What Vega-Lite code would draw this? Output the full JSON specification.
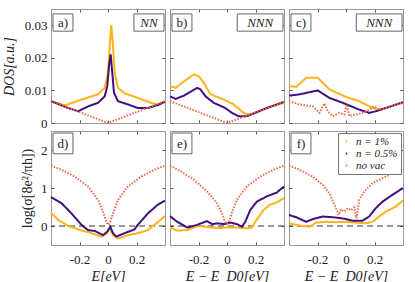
{
"$schema":"https://vega.github.io/schema/vega-lite/v6.json",
"padding":{"left":1,"top":8,"right":0,"bottom":0},
"config":{
 "font":"Liberation Serif",
 "view":{"stroke":"#999"},
 "axis":{"domainColor":"#999","tickColor":"#555","tickSize":-3,"labelPadding":7,"labelFont":"Liberation Serif","labelFontSize":13,"labelColor":"#222","titleFont":"Liberation Serif","titleFontSize":14,"titleFontWeight":"normal","titleFontStyle":"italic","titleColor":"#222","titlePadding":5,"grid":false},
 "axisX":{"labelPadding":11},
 "legend":{"strokeColor":"#777","fillColor":"white","padding":3,"labelFont":"Liberation Serif","labelFontStyle":"italic","labelFontSize":11,"labelColor":"#222","symbolType":"stroke","symbolSize":250,"symbolStrokeWidth":2,"rowPadding":0,"offset":2}
},
"datasets":{
"a":[
{"s":"n = 1%","E":-0.4,"v":0.0067},{"s":"n = 1%","E":-0.302,"v":0.0054},{"s":"n = 1%","E":-0.186,"v":0.0072},{"s":"n = 1%","E":-0.07,"v":0.0088},{"s":"n = 1%","E":-0.023,"v":0.0108},{"s":"n = 1%","E":0,"v":0.0154},{"s":"n = 1%","E":0.012,"v":0.0237},{"s":"n = 1%","E":0.023,"v":0.0301},{"s":"n = 1%","E":0.035,"v":0.0237},{"s":"n = 1%","E":0.047,"v":0.0154},{"s":"n = 1%","E":0.07,"v":0.0108},{"s":"n = 1%","E":0.116,"v":0.0091},{"s":"n = 1%","E":0.209,"v":0.0077},{"s":"n = 1%","E":0.302,"v":0.0062},{"s":"n = 1%","E":0.349,"v":0.0057},{"s":"n = 1%","E":0.4,"v":0.0067},
{"s":"n = 0.5%","E":-0.4,"v":0.0067},{"s":"n = 0.5%","E":-0.279,"v":0.0046},{"s":"n = 0.5%","E":-0.209,"v":0.0036},{"s":"n = 0.5%","E":-0.14,"v":0.0051},{"s":"n = 0.5%","E":-0.07,"v":0.0062},{"s":"n = 0.5%","E":-0.023,"v":0.0082},{"s":"n = 0.5%","E":-0.005,"v":0.0113},{"s":"n = 0.5%","E":0.007,"v":0.0175},{"s":"n = 0.5%","E":0.019,"v":0.0211},{"s":"n = 0.5%","E":0.03,"v":0.0154},{"s":"n = 0.5%","E":0.042,"v":0.0093},{"s":"n = 0.5%","E":0.07,"v":0.0067},{"s":"n = 0.5%","E":0.14,"v":0.0057},{"s":"n = 0.5%","E":0.209,"v":0.0046},{"s":"n = 0.5%","E":0.279,"v":0.0046},{"s":"n = 0.5%","E":0.349,"v":0.0055},{"s":"n = 0.5%","E":0.4,"v":0.0065},
{"s":"no vac","E":-0.4,"v":0.0067},{"s":"no vac","E":0,"v":0},{"s":"no vac","E":0.4,"v":0.0067}
],
"b":[
{"s":"n = 1%","E":-0.4,"v":0.0113},{"s":"n = 1%","E":-0.36,"v":0.0108},{"s":"n = 1%","E":-0.314,"v":0.0124},{"s":"n = 1%","E":-0.233,"v":0.0149},{"s":"n = 1%","E":-0.198,"v":0.0144},{"s":"n = 1%","E":-0.163,"v":0.0124},{"s":"n = 1%","E":-0.116,"v":0.0088},{"s":"n = 1%","E":-0.023,"v":0.0072},{"s":"n = 1%","E":0.047,"v":0.0057},{"s":"n = 1%","E":0.116,"v":0.0031},{"s":"n = 1%","E":0.151,"v":0.0026},{"s":"n = 1%","E":0.186,"v":0.0029},{"s":"n = 1%","E":0.279,"v":0.0046},{"s":"n = 1%","E":0.4,"v":0.0062},
{"s":"n = 0.5%","E":-0.4,"v":0.0082},{"s":"n = 0.5%","E":-0.36,"v":0.0074},{"s":"n = 0.5%","E":-0.302,"v":0.0084},{"s":"n = 0.5%","E":-0.209,"v":0.0108},{"s":"n = 0.5%","E":-0.186,"v":0.0103},{"s":"n = 0.5%","E":-0.151,"v":0.0082},{"s":"n = 0.5%","E":-0.093,"v":0.0062},{"s":"n = 0.5%","E":-0.012,"v":0.0046},{"s":"n = 0.5%","E":0.035,"v":0.0031},{"s":"n = 0.5%","E":0.081,"v":0.0021},{"s":"n = 0.5%","E":0.14,"v":0.0021},{"s":"n = 0.5%","E":0.186,"v":0.0029},{"s":"n = 0.5%","E":0.279,"v":0.0046},{"s":"n = 0.5%","E":0.4,"v":0.0065},
{"s":"no vac","E":-0.4,"v":0.0067},{"s":"no vac","E":0,"v":0},{"s":"no vac","E":0.4,"v":0.0065}
],
"c":[
{"s":"n = 1%","E":-0.4,"v":0.0113},{"s":"n = 1%","E":-0.349,"v":0.0111},{"s":"n = 1%","E":-0.279,"v":0.0139},{"s":"n = 1%","E":-0.198,"v":0.0139},{"s":"n = 1%","E":-0.116,"v":0.0103},{"s":"n = 1%","E":0,"v":0.008},{"s":"n = 1%","E":0.093,"v":0.0067},{"s":"n = 1%","E":0.163,"v":0.0051},{"s":"n = 1%","E":0.221,"v":0.0041},{"s":"n = 1%","E":0.279,"v":0.0046},{"s":"n = 1%","E":0.4,"v":0.0062},
{"s":"n = 0.5%","E":-0.4,"v":0.0084},{"s":"n = 0.5%","E":-0.326,"v":0.0088},{"s":"n = 0.5%","E":-0.198,"v":0.01},{"s":"n = 0.5%","E":-0.116,"v":0.0077},{"s":"n = 0.5%","E":-0.023,"v":0.0062},{"s":"n = 0.5%","E":0.093,"v":0.0041},{"s":"n = 0.5%","E":0.163,"v":0.0031},{"s":"n = 0.5%","E":0.209,"v":0.0036},{"s":"n = 0.5%","E":0.279,"v":0.0046},{"s":"n = 0.5%","E":0.4,"v":0.0064},
{"s":"no vac","E":-0.4,"v":0.0067},{"s":"no vac","E":-0.326,"v":0.0057},{"s":"no vac","E":-0.233,"v":0.0051},{"s":"no vac","E":-0.186,"v":0.0031},{"s":"no vac","E":-0.151,"v":0.006},{"s":"no vac","E":-0.128,"v":0.0036},{"s":"no vac","E":-0.093,"v":0.0021},{"s":"no vac","E":-0.047,"v":0.0031},{"s":"no vac","E":-0.012,"v":0.0026},{"s":"no vac","E":0.005,"v":0.0057},{"s":"no vac","E":0.023,"v":0.0021},{"s":"no vac","E":0.07,"v":0.0026},{"s":"no vac","E":0.116,"v":0.0031},{"s":"no vac","E":0.163,"v":0.0041},{"s":"no vac","E":0.198,"v":0.0051},{"s":"no vac","E":0.233,"v":0.0039},{"s":"no vac","E":0.279,"v":0.0046},{"s":"no vac","E":0.4,"v":0.0064}
],
"d":[
{"s":"n = 1%","E":-0.4,"v":0.35},{"s":"n = 1%","E":-0.349,"v":0.16},{"s":"n = 1%","E":-0.279,"v":0},{"s":"n = 1%","E":-0.186,"v":-0.12},{"s":"n = 1%","E":-0.116,"v":-0.19},{"s":"n = 1%","E":-0.047,"v":-0.28},{"s":"n = 1%","E":-0.012,"v":-0.21},{"s":"n = 1%","E":0.012,"v":-0.04},{"s":"n = 1%","E":0.035,"v":-0.24},{"s":"n = 1%","E":0.07,"v":-0.33},{"s":"n = 1%","E":0.14,"v":-0.24},{"s":"n = 1%","E":0.209,"v":-0.19},{"s":"n = 1%","E":0.279,"v":-0.11},{"s":"n = 1%","E":0.326,"v":0.03},{"s":"n = 1%","E":0.4,"v":0.26},
{"s":"n = 0.5%","E":-0.4,"v":0.76},{"s":"n = 0.5%","E":-0.326,"v":0.6},{"s":"n = 0.5%","E":-0.256,"v":0.33},{"s":"n = 0.5%","E":-0.186,"v":0.03},{"s":"n = 0.5%","E":-0.14,"v":-0.11},{"s":"n = 0.5%","E":-0.093,"v":-0.13},{"s":"n = 0.5%","E":-0.035,"v":-0.24},{"s":"n = 0.5%","E":-0.005,"v":-0.15},{"s":"n = 0.5%","E":0.016,"v":-0.02},{"s":"n = 0.5%","E":0.035,"v":-0.19},{"s":"n = 0.5%","E":0.058,"v":-0.28},{"s":"n = 0.5%","E":0.116,"v":-0.19},{"s":"n = 0.5%","E":0.186,"v":-0.09},{"s":"n = 0.5%","E":0.209,"v":0.03},{"s":"n = 0.5%","E":0.279,"v":0.33},{"s":"n = 0.5%","E":0.349,"v":0.56},{"s":"n = 0.5%","E":0.4,"v":0.67},
{"s":"no vac","E":-0.4,"v":1.59},{"s":"no vac","E":-0.326,"v":1.48},{"s":"no vac","E":-0.233,"v":1.3},{"s":"no vac","E":-0.14,"v":1.04},{"s":"no vac","E":-0.07,"v":0.69},{"s":"no vac","E":-0.035,"v":0.38},{"s":"no vac","E":-0.012,"v":0.11},{"s":"no vac","E":0,"v":0.03},{"s":"no vac","E":0.012,"v":0.07},{"s":"no vac","E":0.035,"v":0.33},{"s":"no vac","E":0.07,"v":0.69},{"s":"no vac","E":0.14,"v":1.04},{"s":"no vac","E":0.233,"v":1.3},{"s":"no vac","E":0.326,"v":1.48},{"s":"no vac","E":0.4,"v":1.59}
],
"e":[
{"s":"n = 1%","E":-0.4,"v":-0.04},{"s":"n = 1%","E":-0.349,"v":-0.12},{"s":"n = 1%","E":-0.279,"v":-0.11},{"s":"n = 1%","E":-0.209,"v":0},{"s":"n = 1%","E":-0.14,"v":-0.02},{"s":"n = 1%","E":-0.07,"v":-0.06},{"s":"n = 1%","E":0,"v":-0.04},{"s":"n = 1%","E":0.07,"v":-0.04},{"s":"n = 1%","E":0.14,"v":-0.06},{"s":"n = 1%","E":0.174,"v":-0.04},{"s":"n = 1%","E":0.198,"v":0.11},{"s":"n = 1%","E":0.256,"v":0.42},{"s":"n = 1%","E":0.302,"v":0.56},{"s":"n = 1%","E":0.349,"v":0.62},{"s":"n = 1%","E":0.4,"v":0.73},
{"s":"n = 0.5%","E":-0.4,"v":0.26},{"s":"n = 0.5%","E":-0.349,"v":0.11},{"s":"n = 0.5%","E":-0.279,"v":-0.04},{"s":"n = 0.5%","E":-0.209,"v":0.03},{"s":"n = 0.5%","E":-0.14,"v":0.13},{"s":"n = 0.5%","E":-0.105,"v":0.05},{"s":"n = 0.5%","E":-0.07,"v":0.07},{"s":"n = 0.5%","E":-0.023,"v":0.05},{"s":"n = 0.5%","E":0.023,"v":0.09},{"s":"n = 0.5%","E":0.07,"v":0.05},{"s":"n = 0.5%","E":0.105,"v":-0.02},{"s":"n = 0.5%","E":0.128,"v":0.11},{"s":"n = 0.5%","E":0.163,"v":0.42},{"s":"n = 0.5%","E":0.209,"v":0.64},{"s":"n = 0.5%","E":0.279,"v":0.78},{"s":"n = 0.5%","E":0.349,"v":0.88},{"s":"n = 0.5%","E":0.4,"v":1.04},
{"s":"no vac","E":-0.4,"v":1.59},{"s":"no vac","E":-0.326,"v":1.44},{"s":"no vac","E":-0.233,"v":1.22},{"s":"no vac","E":-0.14,"v":0.91},{"s":"no vac","E":-0.07,"v":0.6},{"s":"no vac","E":-0.035,"v":0.33},{"s":"no vac","E":-0.012,"v":0.09},{"s":"no vac","E":0,"v":0.05},{"s":"no vac","E":0.012,"v":0.09},{"s":"no vac","E":0.035,"v":0.35},{"s":"no vac","E":0.07,"v":0.69},{"s":"no vac","E":0.14,"v":1.04},{"s":"no vac","E":0.233,"v":1.3},{"s":"no vac","E":0.326,"v":1.48},{"s":"no vac","E":0.4,"v":1.59}
],
"f":[
{"s":"n = 1%","E":-0.4,"v":0.07},{"s":"n = 1%","E":-0.349,"v":0.03},{"s":"n = 1%","E":-0.302,"v":0},{"s":"n = 1%","E":-0.256,"v":-0.02},{"s":"n = 1%","E":-0.209,"v":0.09},{"s":"n = 1%","E":-0.14,"v":0.11},{"s":"n = 1%","E":-0.07,"v":0.1},{"s":"n = 1%","E":0,"v":0.11},{"s":"n = 1%","E":0.07,"v":0.09},{"s":"n = 1%","E":0.14,"v":0.07},{"s":"n = 1%","E":0.186,"v":0.11},{"s":"n = 1%","E":0.233,"v":0.25},{"s":"n = 1%","E":0.279,"v":0.38},{"s":"n = 1%","E":0.349,"v":0.51},{"s":"n = 1%","E":0.4,"v":0.67},
{"s":"n = 0.5%","E":-0.4,"v":0.29},{"s":"n = 0.5%","E":-0.349,"v":0.23},{"s":"n = 0.5%","E":-0.279,"v":0.11},{"s":"n = 0.5%","E":-0.233,"v":0.18},{"s":"n = 0.5%","E":-0.163,"v":0.25},{"s":"n = 0.5%","E":-0.093,"v":0.23},{"s":"n = 0.5%","E":-0.023,"v":0.2},{"s":"n = 0.5%","E":0.047,"v":0.14},{"s":"n = 0.5%","E":0.116,"v":0.14},{"s":"n = 0.5%","E":0.163,"v":0.25},{"s":"n = 0.5%","E":0.209,"v":0.47},{"s":"n = 0.5%","E":0.256,"v":0.64},{"s":"n = 0.5%","E":0.326,"v":0.82},{"s":"n = 0.5%","E":0.4,"v":1.0},
{"s":"no vac","E":-0.4,"v":1.59},{"s":"no vac","E":-0.326,"v":1.48},{"s":"no vac","E":-0.233,"v":1.3},{"s":"no vac","E":-0.163,"v":1.08},{"s":"no vac","E":-0.116,"v":0.86},{"s":"no vac","E":-0.081,"v":0.56},{"s":"no vac","E":-0.051,"v":0.29},{"s":"no vac","E":-0.035,"v":0.44},{"s":"no vac","E":-0.012,"v":0.38},{"s":"no vac","E":0.012,"v":0.47},{"s":"no vac","E":0.035,"v":0.41},{"s":"no vac","E":0.058,"v":0.49},{"s":"no vac","E":0.074,"v":0.2},{"s":"no vac","E":0.093,"v":0.69},{"s":"no vac","E":0.128,"v":0.91},{"s":"no vac","E":0.186,"v":1.13},{"s":"no vac","E":0.256,"v":1.26},{"s":"no vac","E":0.326,"v":1.39},{"s":"no vac","E":0.4,"v":1.55}
]
},
"resolve":{"scale":{"color":"independent","strokeDash":"independent","size":"independent"}},
"spacing":-17,
"vconcat":[
{"hconcat":[
 {"width":114,"height":114,"layer":[
  {"data":{"name":"a"},"mark":{"type":"line"},"encoding":{
   "x":{"field":"E","type":"quantitative","scale":{"domain":[-0.4,0.4],"nice":false,"zero":false},"axis":{"values":[-0.2,0,0.2],"labels":false,"title":null}},
   "y":{"field":"v","type":"quantitative","scale":{"domain":[0,0.035],"nice":false},"axis":{"values":[0,0.01,0.02,0.03],"format":"~g","title":"DOS[a.u.]","titleX":-35,"titleY":57}},
   "color":{"field":"s","type":"nominal","scale":{"domain":["n = 1%","n = 0.5%","no vac"],"range":["#FFB31A","#42107E","#F26A4B"]},"legend":null},
   "strokeDash":{"field":"s","type":"nominal","scale":{"domain":["n = 1%","n = 0.5%","no vac"],"range":[[1,0],[1,0],[1.5,1.5]]},"legend":null},
   "size":{"field":"s","type":"nominal","scale":{"domain":["n = 1%","n = 0.5%","no vac"],"range":[2,2,1.5]},"legend":null}}},
  {"data":{"name":"a"},"mark":{"type":"line","strokeOpacity":0},"encoding":{
   "x":{"field":"E","type":"quantitative","scale":{"domain":[-0.4,0.4],"nice":false,"zero":false},"axis":{"orient":"top","values":[-0.2,0,0.2],"labels":false,"title":null}},
   "y":{"field":"v","type":"quantitative","scale":{"domain":[0,0.035],"nice":false},"axis":{"orient":"right","values":[0,0.01,0.02,0.03],"labels":false,"title":null}}}},
  {"data":{"values":[{"t":"a)"}]},"mark":{"type":"rect","fill":"white","stroke":"#666","strokeWidth":1},"encoding":{"x":{"datum":-0.386,"axis":null},"x2":{"datum":-0.246},"y":{"datum":0.0335,"axis":null},"y2":{"datum":0.0282}}},
  {"data":{"values":[{"t":"a)"}]},"mark":{"type":"text","fontSize":13,"color":"#222"},"encoding":{"x":{"datum":-0.316,"axis":null},"y":{"datum":0.0308,"axis":null},"text":{"field":"t"}}},
  {"data":{"values":[{"t":"NN"}]},"mark":{"type":"rect","fill":"white","stroke":"#666","strokeWidth":1},"encoding":{"x":{"datum":0.182,"axis":null},"x2":{"datum":0.393},"y":{"datum":0.0335,"axis":null},"y2":{"datum":0.0282}}},
  {"data":{"values":[{"t":"NN"}]},"mark":{"type":"text","fontSize":13,"fontStyle":"italic","color":"#222"},"encoding":{"x":{"datum":0.288,"axis":null},"y":{"datum":0.0308,"axis":null},"text":{"field":"t"}}}
 ],"resolve":{"axis":{"x":"independent","y":"independent"}}},
 {"width":114,"height":114,"layer":[
  {"data":{"name":"b"},"mark":{"type":"line"},"encoding":{
   "x":{"field":"E","type":"quantitative","scale":{"domain":[-0.4,0.4],"nice":false,"zero":false},"axis":{"values":[-0.2,0,0.2],"labels":false,"title":null}},
   "y":{"field":"v","type":"quantitative","scale":{"domain":[0,0.035],"nice":false},"axis":{"values":[0,0.01,0.02,0.03],"labels":false,"title":null}},
   "color":{"field":"s","type":"nominal","scale":{"domain":["n = 1%","n = 0.5%","no vac"],"range":["#FFB31A","#42107E","#F26A4B"]},"legend":null},
   "strokeDash":{"field":"s","type":"nominal","scale":{"domain":["n = 1%","n = 0.5%","no vac"],"range":[[1,0],[1,0],[1.5,1.5]]},"legend":null},
   "size":{"field":"s","type":"nominal","scale":{"domain":["n = 1%","n = 0.5%","no vac"],"range":[2,2,1.5]},"legend":null}}},
  {"data":{"name":"b"},"mark":{"type":"line","strokeOpacity":0},"encoding":{
   "x":{"field":"E","type":"quantitative","scale":{"domain":[-0.4,0.4],"nice":false,"zero":false},"axis":{"orient":"top","values":[-0.2,0,0.2],"labels":false,"title":null}},
   "y":{"field":"v","type":"quantitative","scale":{"domain":[0,0.035],"nice":false},"axis":{"orient":"right","values":[0,0.01,0.02,0.03],"labels":false,"title":null}}}},
  {"data":{"values":[{"t":"b)"}]},"mark":{"type":"rect","fill":"white","stroke":"#666","strokeWidth":1},"encoding":{"x":{"datum":-0.386,"axis":null},"x2":{"datum":-0.246},"y":{"datum":0.0335,"axis":null},"y2":{"datum":0.0282}}},
  {"data":{"values":[{"t":"b)"}]},"mark":{"type":"text","fontSize":13,"color":"#222"},"encoding":{"x":{"datum":-0.316,"axis":null},"y":{"datum":0.0308,"axis":null},"text":{"field":"t"}}},
  {"data":{"values":[{"t":"NNN"}]},"mark":{"type":"rect","fill":"white","stroke":"#666","strokeWidth":1},"encoding":{"x":{"datum":0.072,"axis":null},"x2":{"datum":0.393},"y":{"datum":0.0335,"axis":null},"y2":{"datum":0.0282}}},
  {"data":{"values":[{"t":"NNN"}]},"mark":{"type":"text","fontSize":13,"fontStyle":"italic","color":"#222"},"encoding":{"x":{"datum":0.233,"axis":null},"y":{"datum":0.0308,"axis":null},"text":{"field":"t"}}}
 ],"resolve":{"axis":{"x":"independent","y":"independent"}}},
 {"width":114,"height":114,"layer":[
  {"data":{"name":"c"},"mark":{"type":"line"},"encoding":{
   "x":{"field":"E","type":"quantitative","scale":{"domain":[-0.4,0.4],"nice":false,"zero":false},"axis":{"values":[-0.2,0,0.2],"labels":false,"title":null}},
   "y":{"field":"v","type":"quantitative","scale":{"domain":[0,0.035],"nice":false},"axis":{"values":[0,0.01,0.02,0.03],"labels":false,"title":null}},
   "color":{"field":"s","type":"nominal","scale":{"domain":["n = 1%","n = 0.5%","no vac"],"range":["#FFB31A","#42107E","#F26A4B"]},"legend":null},
   "strokeDash":{"field":"s","type":"nominal","scale":{"domain":["n = 1%","n = 0.5%","no vac"],"range":[[1,0],[1,0],[1.5,1.5]]},"legend":null},
   "size":{"field":"s","type":"nominal","scale":{"domain":["n = 1%","n = 0.5%","no vac"],"range":[2,2,1.5]},"legend":null}}},
  {"data":{"name":"c"},"mark":{"type":"line","strokeOpacity":0},"encoding":{
   "x":{"field":"E","type":"quantitative","scale":{"domain":[-0.4,0.4],"nice":false,"zero":false},"axis":{"orient":"top","values":[-0.2,0,0.2],"labels":false,"title":null}},
   "y":{"field":"v","type":"quantitative","scale":{"domain":[0,0.035],"nice":false},"axis":{"orient":"right","values":[0,0.01,0.02,0.03],"labels":false,"title":null}}}},
  {"data":{"values":[{"t":"c)"}]},"mark":{"type":"rect","fill":"white","stroke":"#666","strokeWidth":1},"encoding":{"x":{"datum":-0.386,"axis":null},"x2":{"datum":-0.246},"y":{"datum":0.0335,"axis":null},"y2":{"datum":0.0282}}},
  {"data":{"values":[{"t":"c)"}]},"mark":{"type":"text","fontSize":13,"color":"#222"},"encoding":{"x":{"datum":-0.316,"axis":null},"y":{"datum":0.0308,"axis":null},"text":{"field":"t"}}},
  {"data":{"values":[{"t":"NNN"}]},"mark":{"type":"rect","fill":"white","stroke":"#666","strokeWidth":1},"encoding":{"x":{"datum":0.072,"axis":null},"x2":{"datum":0.393},"y":{"datum":0.0335,"axis":null},"y2":{"datum":0.0282}}},
  {"data":{"values":[{"t":"NNN"}]},"mark":{"type":"text","fontSize":13,"fontStyle":"italic","color":"#222"},"encoding":{"x":{"datum":0.233,"axis":null},"y":{"datum":0.0308,"axis":null},"text":{"field":"t"}}}
 ],"resolve":{"axis":{"x":"independent","y":"independent"}}}
],"spacing":-5,"resolve":{"scale":{"color":"independent","strokeDash":"independent","size":"independent"}}},
{"hconcat":[
 {"width":114,"height":114,"layer":[
  {"data":{"values":[{}]},"mark":{"type":"rule","strokeDash":[6,4],"color":"#333","strokeWidth":1},"encoding":{"y":{"datum":0,"axis":null}}},
  {"data":{"name":"d"},"mark":{"type":"line"},"encoding":{
   "x":{"field":"E","type":"quantitative","scale":{"domain":[-0.4,0.4],"nice":false,"zero":false},"axis":{"values":[-0.2,0,0.2],"labelPadding":11,"labelExpr":"datum.value < 0 ? '-' + format(-datum.value, '~g') : format(datum.value, '~g')","title":"E[eV]","titleX":57,"titleY":24}},
   "y":{"field":"v","type":"quantitative","scale":{"domain":[-0.5,2.5],"nice":false,"zero":false},"axis":{"values":[0,1,2],"title":"log(σ[8e²/πh])","titleFontStyle":"normal","titleX":-17,"titleY":57}},
   "color":{"field":"s","type":"nominal","scale":{"domain":["n = 1%","n = 0.5%","no vac"],"range":["#FFB31A","#42107E","#F26A4B"]},"legend":null},
   "strokeDash":{"field":"s","type":"nominal","scale":{"domain":["n = 1%","n = 0.5%","no vac"],"range":[[1,0],[1,0],[1.5,1.5]]},"legend":null},
   "size":{"field":"s","type":"nominal","scale":{"domain":["n = 1%","n = 0.5%","no vac"],"range":[2,2,1.5]},"legend":null}}},
  {"data":{"name":"d"},"mark":{"type":"line","strokeOpacity":0},"encoding":{
   "x":{"field":"E","type":"quantitative","scale":{"domain":[-0.4,0.4],"nice":false,"zero":false},"axis":{"orient":"top","values":[-0.2,0,0.2],"labels":false,"title":null}},
   "y":{"field":"v","type":"quantitative","scale":{"domain":[-0.5,2.5],"nice":false,"zero":false},"axis":{"orient":"right","values":[0,1,2],"labels":false,"title":null}}}},
  {"data":{"values":[{"t":"d)"}]},"mark":{"type":"rect","fill":"white","stroke":"#666","strokeWidth":1},"encoding":{"x":{"datum":-0.386,"axis":null},"x2":{"datum":-0.246},"y":{"datum":2.447,"axis":null},"y2":{"datum":1.9}}},
  {"data":{"values":[{"t":"d)"}]},"mark":{"type":"text","fontSize":13,"color":"#222"},"encoding":{"x":{"datum":-0.316,"axis":null},"y":{"datum":2.17,"axis":null},"text":{"field":"t"}}}
 ],"resolve":{"axis":{"x":"independent","y":"independent"}}},
 {"width":114,"height":114,"layer":[
  {"data":{"values":[{}]},"mark":{"type":"rule","strokeDash":[6,4],"color":"#333","strokeWidth":1},"encoding":{"y":{"datum":0,"axis":null}}},
  {"data":{"name":"e"},"mark":{"type":"line"},"encoding":{
   "x":{"field":"E","type":"quantitative","scale":{"domain":[-0.4,0.4],"nice":false,"zero":false},"axis":{"values":[-0.2,0,0.2],"labelPadding":11,"labelExpr":"datum.value < 0 ? '-' + format(-datum.value, '~g') : format(datum.value, '~g')","title":"E − E_D0[eV]","titleX":57,"titleY":24}},
   "y":{"field":"v","type":"quantitative","scale":{"domain":[-0.5,2.5],"nice":false,"zero":false},"axis":{"values":[0,1,2],"labels":false,"title":null}},
   "color":{"field":"s","type":"nominal","scale":{"domain":["n = 1%","n = 0.5%","no vac"],"range":["#FFB31A","#42107E","#F26A4B"]},"legend":null},
   "strokeDash":{"field":"s","type":"nominal","scale":{"domain":["n = 1%","n = 0.5%","no vac"],"range":[[1,0],[1,0],[1.5,1.5]]},"legend":null},
   "size":{"field":"s","type":"nominal","scale":{"domain":["n = 1%","n = 0.5%","no vac"],"range":[2,2,1.5]},"legend":null}}},
  {"data":{"name":"e"},"mark":{"type":"line","strokeOpacity":0},"encoding":{
   "x":{"field":"E","type":"quantitative","scale":{"domain":[-0.4,0.4],"nice":false,"zero":false},"axis":{"orient":"top","values":[-0.2,0,0.2],"labels":false,"title":null}},
   "y":{"field":"v","type":"quantitative","scale":{"domain":[-0.5,2.5],"nice":false,"zero":false},"axis":{"orient":"right","values":[0,1,2],"labels":false,"title":null}}}},
  {"data":{"values":[{"t":"e)"}]},"mark":{"type":"rect","fill":"white","stroke":"#666","strokeWidth":1},"encoding":{"x":{"datum":-0.386,"axis":null},"x2":{"datum":-0.246},"y":{"datum":2.447,"axis":null},"y2":{"datum":1.9}}},
  {"data":{"values":[{"t":"e)"}]},"mark":{"type":"text","fontSize":13,"color":"#222"},"encoding":{"x":{"datum":-0.316,"axis":null},"y":{"datum":2.17,"axis":null},"text":{"field":"t"}}}
 ],"resolve":{"axis":{"x":"independent","y":"independent"}}},
 {"width":114,"height":114,"layer":[
  {"data":{"values":[{}]},"mark":{"type":"rule","strokeDash":[6,4],"color":"#333","strokeWidth":1},"encoding":{"y":{"datum":0,"axis":null}}},
  {"data":{"name":"f"},"mark":{"type":"line"},"encoding":{
   "x":{"field":"E","type":"quantitative","scale":{"domain":[-0.4,0.4],"nice":false,"zero":false},"axis":{"values":[-0.2,0,0.2],"labelPadding":11,"labelExpr":"datum.value < 0 ? '-' + format(-datum.value, '~g') : format(datum.value, '~g')","title":"E − E_D0[eV]","titleX":57,"titleY":24}},
   "y":{"field":"v","type":"quantitative","scale":{"domain":[-0.5,2.5],"nice":false,"zero":false},"axis":{"values":[0,1,2],"labels":false,"title":null}},
   "color":{"field":"s","type":"nominal","scale":{"domain":["n = 1%","n = 0.5%","no vac"],"range":["#FFB31A","#42107E","#F26A4B"]},"legend":{"title":null,"orient":"top-right"}},
   "strokeDash":{"field":"s","type":"nominal","scale":{"domain":["n = 1%","n = 0.5%","no vac"],"range":[[1,0],[1,0],[1.5,1.5]]},"legend":{"title":null,"orient":"top-right"}},
   "size":{"field":"s","type":"nominal","scale":{"domain":["n = 1%","n = 0.5%","no vac"],"range":[2,2,1.5]},"legend":{"title":null,"orient":"top-right"}}}},
  {"data":{"name":"f"},"mark":{"type":"line","strokeOpacity":0},"encoding":{
   "x":{"field":"E","type":"quantitative","scale":{"domain":[-0.4,0.4],"nice":false,"zero":false},"axis":{"orient":"top","values":[-0.2,0,0.2],"labels":false,"title":null}},
   "y":{"field":"v","type":"quantitative","scale":{"domain":[-0.5,2.5],"nice":false,"zero":false},"axis":{"orient":"right","values":[0,1,2],"labels":false,"title":null}}}},
  {"data":{"values":[{"t":"f)"}]},"mark":{"type":"rect","fill":"white","stroke":"#666","strokeWidth":1},"encoding":{"x":{"datum":-0.386,"axis":null},"x2":{"datum":-0.246},"y":{"datum":2.447,"axis":null},"y2":{"datum":1.9}}},
  {"data":{"values":[{"t":"f)"}]},"mark":{"type":"text","fontSize":13,"color":"#222"},"encoding":{"x":{"datum":-0.316,"axis":null},"y":{"datum":2.17,"axis":null},"text":{"field":"t"}}}
 ],"resolve":{"axis":{"x":"independent","y":"independent"}}}
],"spacing":-5,"resolve":{"scale":{"color":"independent","strokeDash":"independent","size":"independent"}}}
]
}
